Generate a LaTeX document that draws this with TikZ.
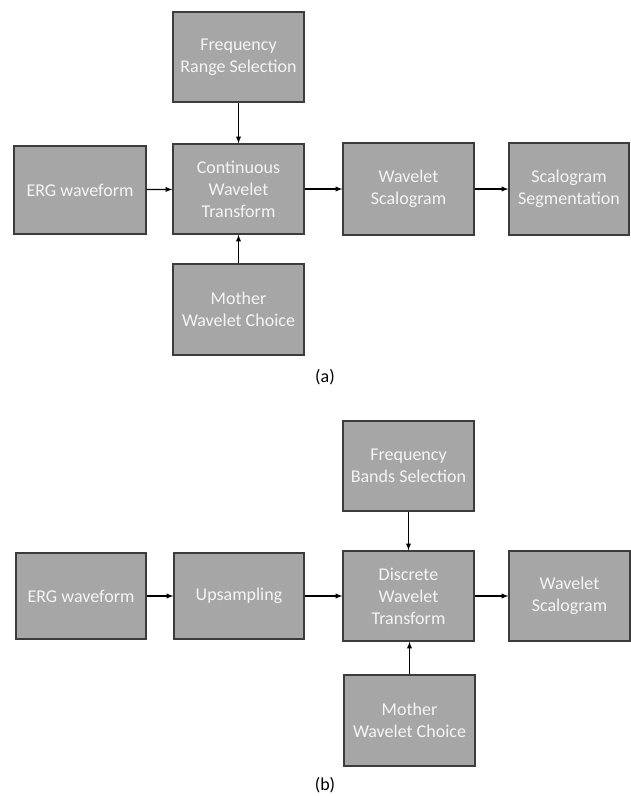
\documentclass[tikz,border=0pt]{standalone}
\usepackage{fontspec}
\setmainfont{Carlito}
\definecolor{boxgray}{HTML}{A6A6A6}
\definecolor{edgegray}{HTML}{3C3C3C}
\definecolor{textgray}{HTML}{F4F4F4}

\begin{document}
\begin{tikzpicture}[x=1pt,y=-1pt,
    block/.style={draw=edgegray,line width=1.3pt,fill=boxgray,text=textgray,
      minimum width=131pt,minimum height=90pt,align=center,inner sep=1pt,
      font=\fontsize{18}{22}\selectfont},
    narrow/.style={block,minimum width=120pt},
    flow/.style={-latex,line width=1.3pt},
    caption/.style={font=\fontsize{18}{22}\selectfont}]
  \useasboundingbox (0,0) rectangle (630,796);
  % (a) continuous transform
  \node [block] (freqA) at (238.5,57) {Frequency\\Range Selection};
  \node [block,minimum width=132pt,minimum height=88pt] (ergA) at (80,190) {ERG waveform};
  \node [block] (cwt) at (238.5,189) {Continuous\\Wavelet\\Transform};
  \node [block,minimum height=92pt] (scalA) at (408.5,189) {Wavelet\\Scalogram};
  \node [narrow,minimum height=92pt] (segm) at (569,189) {Scalogram\\Segmentation};
  \node [block,minimum height=91pt] (motherA) at (238.5,309.5) {Mother\\Wavelet Choice};
  \draw [flow] (freqA) -- (cwt);
  \draw [flow] (motherA) -- (cwt);
  \draw [flow] (ergA) -- (cwt);
  \draw [flow] (cwt) -- (scalA);
  \draw [flow] (scalA) -- (segm);
  \node [caption] (capA) at (325,377) {(a)};
  % (b) discrete transform
  \node [block] (freqB) at (408.5,466) {Frequency\\Bands Selection};
  \node [block,minimum width=130pt,minimum height=86pt] (ergB) at (81,596) {ERG waveform};
  \node [block,minimum width=130pt,minimum height=86pt] (upsamp) at (239,596) {Upsampling};
  \node [block] (dwt) at (408.5,596) {Discrete\\Wavelet\\Transform};
  \node [narrow,minimum width=121pt] (scalB) at (569.5,596) {Wavelet\\Scalogram};
  \node [block,minimum height=91pt] (motherB) at (409.5,720.5) {Mother\\Wavelet Choice};
  \draw [flow] (freqB) -- (dwt);
  \draw [flow] (motherB.north) -- (motherB.north |- dwt.south);
  \draw [flow] (ergB) -- (upsamp);
  \draw [flow] (upsamp) -- (dwt);
  \draw [flow] (dwt) -- (scalB);
  \node [caption] (capB) at (325,785) {(b)};
\end{tikzpicture}
\end{document}
